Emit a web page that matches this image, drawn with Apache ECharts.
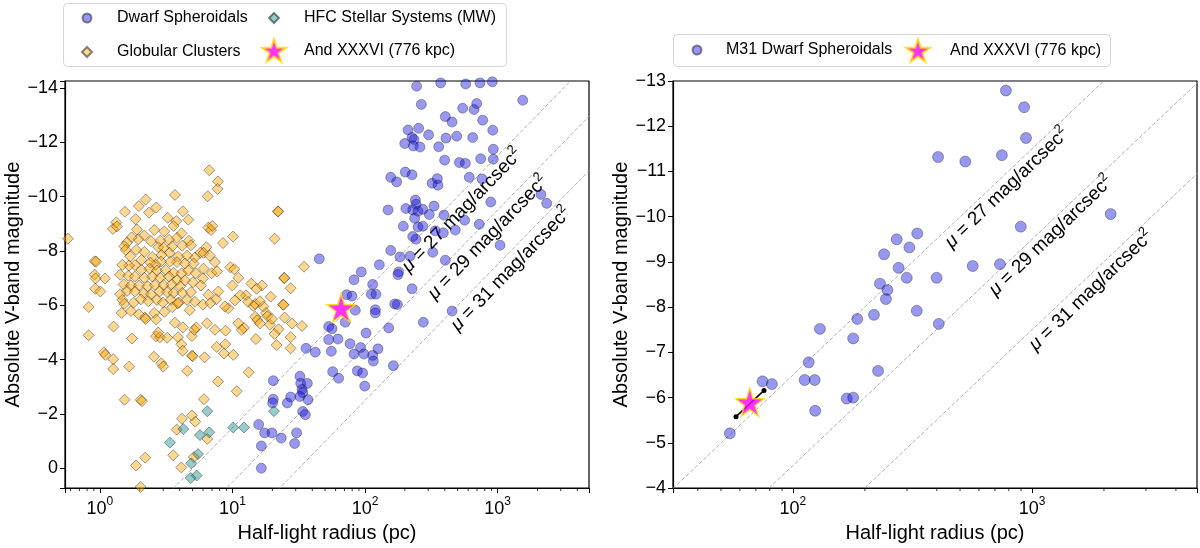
<!DOCTYPE html>
<html>
<head>
<meta charset="utf-8">
<script src="https://cdn.jsdelivr.net/npm/echarts@6/dist/echarts.min.js"></script>
<style>
  html, body { margin: 0; padding: 0; background: #fff; }
  #container { width: 1200px; height: 548px; }
</style>
</head>
<body>
<div id="container"></div>
<script>
// values: [log10 half-light radius (pc), absolute V magnitude]
const dwarfSph = [
  [2.39,-14.06],[2.571,-14.18],[2.76,-14.14],[2.868,-14.18],[2.961,-14.22],[3.19,-13.54],[2.425,-13.39],[2.737,-13.25],
  [2.823,-13.2],[2.843,-13.42],[2.606,-12.94],[2.657,-12.74],[2.888,-12.81],[2.325,-12.45],[2.405,-12.51],[2.48,-12.27],
  [2.964,-12.44],[2.355,-12.17],[2.37,-12.1],[2.3,-11.95],[2.365,-11.86],[2.415,-11.82],[2.611,-12.15],[2.692,-12.22],
  [2.813,-12.17],[2.556,-11.83],[2.968,-11.74],[2.601,-11.34],[2.712,-11.25],[2.757,-11.22],[2.873,-11.39],[2.968,-11.37],
  [2.194,-10.71],[2.239,-10.54],[2.304,-10.9],[2.355,-10.8],[2.506,-10.49],[2.546,-10.66],[2.551,-10.42],[2.787,-10.71],
  [2.883,-10.65],[3.328,-10.08],[3.371,-9.75],[2.949,-9.8],[2.38,-9.87],[2.385,-9.72],[2.174,-9.51],[2.309,-9.56],
  [2.36,-9.51],[2.4,-9.46],[2.436,-9.53],[2.521,-9.65],[2.485,-9.34],[2.596,-9.32],[2.375,-9.2],[2.752,-9.13],
  [2.862,-8.98],[2.289,-8.91],[2.4,-8.88],[2.436,-8.91],[2.53,-8.74],[2.591,-8.67],[2.681,-8.77],[2.36,-8.53],
  [2.385,-8.43],[3.019,-8.21],[2.194,-8.02],[2.264,-7.78],[2.34,-7.81],[2.511,-7.95],[2.606,-7.66],[1.655,-7.71],
  [2.108,-7.49],[2.254,-7.23],[2.249,-7.13],[1.972,-7.23],[1.917,-6.94],[2.058,-6.77],[2.048,-6.41],[2.083,-6.41],
  [2.355,-6.61],[1.862,-6.39],[1.902,-6.34],[2.224,-6.05],[2.244,-6.03],[2.078,-5.84],[1.927,-5.82],[2.657,-5.79],
  [1.726,-5.22],[1.751,-5.14],[2.078,-5.72],[1.851,-5.38],[2.179,-5.17],[2.44,-5.38],[1.726,-4.74],[1.796,-4.76],
  [1.625,-4.28],[1.746,-4.31],[1.887,-4.59],[1.967,-4.45],[2.098,-4.4],[1.917,-4.21],[1.992,-4.21],[2.058,-4.16],
  [2.063,-3.95],[2.214,-3.78],[1.756,-3.56],[1.801,-3.32],[1.942,-3.59],[1.982,-3.51],[1.998,-3.03],[2.008,-4.98],
  [1.555,-4.42],[1.308,-3.23],[1.509,-3.39],[1.515,-3.13],[1.565,-3.13],[1.525,-2.91],[1.53,-2.79],[1.308,-2.55],
  [1.303,-2.41],[1.439,-2.63],[1.414,-2.41],[1.509,-2.65],[1.57,-2.53],[1.53,-2.1],[1.55,-1.98],[1.198,-1.62],
  [1.243,-1.31],[1.298,-1.31],[1.368,-1.12],[1.484,-1.31],[1.218,-0.83],[1.469,-0.92],[1.218,-0.01]
];

const globClusters = [
  [-0.242,-8.45],[0.825,-10.97],[0.891,-10.56],[-0.04,-7.62],[-0.04,-7.13],[-0.035,-6.61],[-0.085,-5.94],[1.343,-9.46],
  [1.345,-9.45],[1.318,-8.45],[1.142,-6.8],[1.223,-6.73],[1.182,-6.61],
  [1.102,-6.37],[1.157,-5.98],[1.172,-6.05],[1.233,-5.96],[1.253,-5.72],[1.263,-5.6],[1.172,-5.58],[1.187,-5.46],
  [1.208,-5.33],[1.283,-5.29],[1.298,-5.5],[1.087,-5.17],[1.288,-6.32],[1.383,-6.03],[1.385,-6.02],[1.389,-7.01],[1.392,-7.0],
  [1.439,-6.63],[1.54,-7.42],[1.525,-5.24],[1.449,-5.33],[1.394,-5.55],[1.348,-5.12],[1.318,-4.95],[1.439,-4.83],
  [1.439,-4.42],[1.333,-4.54],[1.177,-4.76],[1.122,-3.54],[1.032,-2.84],[1.208,-6.15],[1.117,-6.13],
  [-0.085,-4.9],[0.03,-4.27],[0.04,-4.18],[0.1,-4.02],[0.1,-3.66],[0.221,-3.75],[0.242,-4.78],[0.423,-4.86],
  [0.408,-4.11],[0.463,-3.87],[0.478,-3.75],[0.186,-2.53],[0.307,-2.53],[0.317,-2.48],[0.453,-4.83],[0.508,-4.81],
  [0.589,-4.83],[0.614,-4.57],[0.624,-4.33],[0.659,-3.59],[0.694,-4.87],[0.694,-4.15],[0.7,-4.13],[0.79,-4.09],
  [0.946,-4.57],[0.881,-4.47],[0.936,-4.23],[1.006,-4.18],[0.891,-3.2],[0.785,-2.55],[0.619,-1.83],[0.694,-1.95],
  [0.719,-1.72],[0.579,-1.43],[0.553,-0.49],[0.614,-0.04],[0.709,-0.42],[0.81,-1.09],[0.272,-0.11],[0.342,-0.4],
  [0.307,0.68],
  [0.566,-10.06],[0.813,-10.01],[0.888,-10.28],[0.345,-9.89],[0.294,-9.65],[0.425,-9.6],[0.189,-9.44],[0.37,-9.41],
  [0.626,-9.46],[0.511,-9.22],[0.576,-9.1],[0.667,-9.15],[0.269,-9.17],[0.123,-9.05],[0.279,-8.79],[0.098,-8.81],
  [0.128,-8.9],[0.818,-8.86],[0.838,-8.77],[0.848,-8.92],[0.486,-8.72],[0.41,-8.77],[0.556,-8.92],[0.616,-8.65],
  [0.335,-8.57],[0.289,-8.43],[0.239,-8.5],[0.204,-8.31],[0.184,-8.17],[1.004,-8.53],[0.928,-8.29],[0.672,-8.38],
  [0.581,-8.48],[0.521,-8.41],[0.455,-8.38],[0.385,-8.36],[0.44,-8.14],[0.481,-8.12],[0.546,-8.17],[0.621,-8.19],
  [0.687,-8.21],[0.803,-8.14],[0.757,-7.93],[0.782,-7.93],[0.828,-7.83],[0.717,-7.76],[0.657,-7.83],[0.591,-7.8],
  [0.526,-7.93],[0.465,-7.85],[0.395,-7.78],[0.335,-7.97],[0.274,-8.04],[0.229,-7.8],[0.194,-8.04],[0.581,-7.59],
  [0.531,-7.61],[0.46,-7.61],[0.42,-7.49],[0.38,-7.57],[0.314,-7.67],[0.264,-7.48],[0.219,-7.46],[0.169,-7.49],
  [-0.028,-7.61],[0.038,-6.99],[0.642,-7.54],[0.707,-7.54],[0.868,-7.59],[0.782,-7.35],[0.984,-7.4],[1.014,-7.33],
  [0.314,-7.3],[0.375,-7.35],[0.43,-7.28],[0.496,-7.3],[0.556,-7.2],[0.616,-7.18],[0.667,-7.28],[0.722,-7.18],
  [0.777,-6.99],[0.843,-7.18],[0.883,-7.25],[0.153,-7.13],[0.214,-7.09],[0.264,-7.06],[0.335,-7.01],[0.395,-7.06],
  [0.455,-7.01],[0.521,-7.06],[0.581,-6.92],[0.642,-6.92],[0.702,-6.85],[0.762,-6.73],[-0.033,-6.99],[0.179,-6.77],
  [0.234,-6.73],[0.294,-6.73],[0.36,-6.7],[0.415,-6.75],[0.481,-6.75],[0.541,-6.77],[0.606,-6.7],[0.999,-6.73],
  [1.044,-7.01],[1.059,-6.37],[0.003,-6.51],[0.153,-6.41],[0.204,-6.53],[0.264,-6.51],[0.33,-6.44],[0.385,-6.41],
  [0.45,-6.51],[0.506,-6.49],[0.556,-6.46],[0.621,-6.46],[0.687,-6.49],[0.818,-6.39],[0.893,-6.51],[0.878,-6.22],
  [1.019,-6.18],[0.969,-5.89],[0.943,-5.96],[0.169,-6.2],[0.184,-6.06],[0.254,-6.1],[0.309,-6.22],[0.365,-6.15],
  [0.43,-6.2],[0.475,-6.1],[0.536,-6.2],[0.596,-6.1],[0.657,-6.2],[0.717,-6.13],[0.164,-5.72],[0.234,-5.79],
  [0.294,-5.67],[0.34,-5.55],[0.41,-5.72],[0.486,-5.76],[0.546,-5.93],[0.586,-6.08],[0.677,-5.82],[0.777,-6.03],
  [0.833,-6.08],[0.103,-5.22],[0.345,-5.5],[0.425,-5.48],[0.44,-5.0],[0.566,-5.36],[0.626,-5.19],[0.712,-5.1],
  [0.808,-5.34],[0.868,-5.1],[0.948,-5.07],[1.044,-5.34],[1.069,-5.1],[0.727,-5.19]
];

const hfcSystems = [
  [0.81,-2.11],[0.629,-1.45],[0.528,-0.95],[0.755,-1.23],[0.825,-1.33],[0.74,-0.53],[0.689,-0.19],[0.685,0.35],
  [0.73,0.26],[1.006,-1.51],[1.087,-1.51],[1.313,-2.11]
];

const m31Dwarfs = [
  [2.381,-9.17],[2.434,-9.5],[2.487,-9.32],[2.52,-9.63],[2.442,-8.87],[2.476,-8.65],[2.364,-8.52],[2.395,-8.38],
  [2.389,-8.18],[2.339,-7.83],[2.518,-7.92],[2.269,-7.74],[2.113,-7.52],[2.252,-7.31],[2.066,-6.78],[2.049,-6.39],
  [2.091,-6.39],[2.093,-5.71],[2.225,-5.98],[2.252,-6.0],[2.356,-6.59],[1.873,-6.36],[1.912,-6.3],[1.736,-5.21],
  [2.891,-12.79],[2.967,-12.42],[2.975,-11.74],[2.607,-11.32],[2.721,-11.22],[2.874,-11.36],[3.329,-10.06],[2.953,-9.78],
  [2.752,-8.91],[2.866,-8.95],[2.601,-8.65],[2.61,-7.63]
];

// And XXXVI: radius (pc), magnitude and the ends of its error bar
const andXXXVI = [66, -5.9];
const andErrR = [57.8, 75.7];
const andErrMag = [-5.58, -6.16];

// surface brightness guide lines, M = mu - 23.5 - 5 log10(r)
const muLevels = [27, 29, 31];
const muOffset = 23.5;
const muLabelLeft = [[531, -9.53], [832, -8.53], [1242, -7.37]];
const muLabelRight = [[778, -10.66], [1189, -9.6], [1750, -8.39]];

const xRangeLeft = [0.545, 4900];
const xRangeRight = [31.5, 4900];
const yRangeLeft = [-14.25, 0.72];
const yRangeRight = [-13, -4];

const FONT = 'Liberation Sans';
const toPc = arr => arr.map(d => [Math.pow(10, d[0]), d[1]]);
const starPath = 'path://M100,0 L122.45,69.1 L195.1,69.1 L136.33,111.8 L158.78,180.9 L100,138.2 L41.22,180.9 L63.67,111.8 L4.9,69.1 L77.55,69.1 Z';
const ANDNAME = 'And XXXVI (776 kpc)';

function minorTicks(lo, hi) {
  const out = [];
  for (let e = -1; e <= 4; e++) {
    for (let m = 2; m <= 9; m++) {
      const v = m * Math.pow(10, e);
      if (v > lo && v < hi) out.push(v);
    }
  }
  return out;
}

function decadeLabel(v) {
  const e = Math.log10(v);
  const n = Math.round(e);
  if (Math.abs(e - n) > 1e-6) return '';
  return '{b|10}{s|' + n + '}';
}

function magLabel(v) {
  if (Math.abs(v - Math.round(v)) > 1e-6) return '';
  return String(Math.round(v)).replace('-', '\u2212');
}

function xAxisCfg(idx, range) {
  return {
    type: 'log', gridIndex: idx, logBase: 10, min: range[0], max: range[1],
    name: 'Half-light radius (pc)', nameLocation: 'middle', nameGap: 27,
    nameTextStyle: { fontFamily: FONT, fontSize: 20, color: '#000' },
    axisLine: { show: true, onZero: false, lineStyle: { color: '#000', width: 1.2 } },
    axisTick: { show: true, length: 5, lineStyle: { color: '#000', width: 1 } },
    axisLabel: {
      formatter: decadeLabel, margin: 8, color: '#000',
      rich: {
        b: { fontFamily: FONT, fontSize: 18, color: '#000', lineHeight: 22, verticalAlign: 'bottom' },
        s: { fontFamily: FONT, fontSize: 12, color: '#000', lineHeight: 12, verticalAlign: 'top' }
      }
    },
    splitLine: { show: false }
  };
}

function yAxisCfg(idx, range, gap) {
  return {
    type: 'value', gridIndex: idx, min: range[0], max: range[1], inverse: true,
    splitNumber: idx === 0 ? 8 : 9,
    interval: idx === 0 ? undefined : 1,
    name: 'Absolute V-band magnitude', nameLocation: 'middle', nameGap: gap,
    nameTextStyle: { fontFamily: FONT, fontSize: 20, color: '#000' },
    axisLine: { show: true, onZero: false, lineStyle: { color: '#000', width: 1.2 } },
    axisTick: { show: true, length: 5, lineStyle: { color: '#000', width: 1 } },
    axisLabel: { formatter: magLabel, fontFamily: FONT, fontSize: 18, color: '#000', margin: 7 },
    splitLine: { show: false }
  };
}

function muLines(idx) {
  return muLevels.map(mu => ({
    type: 'line', xAxisIndex: idx, yAxisIndex: idx, silent: true, z: 1,
    symbol: 'none', clip: true,
    lineStyle: { color: '#9a9a9a', width: 0.8, type: [4, 2] },
    data: [0.1, 100000].map(r => [r, mu - muOffset - 5 * Math.log10(r)])
  }));
}

function muLabels(idx, pos, angle) {
  return {
    type: 'scatter', xAxisIndex: idx, yAxisIndex: idx, silent: true, z: 2,
    symbolSize: 1, itemStyle: { color: 'rgba(0,0,0,0)', opacity: 1 },
    data: pos,
    label: {
      show: true, position: 'inside', rotate: angle,
      color: '#000', opacity: 1, textBorderWidth: 0,
      formatter: p => '{i|\u03bc}{n| = ' + muLevels[p.dataIndex] + ' mag/arcsec}{p|2}',
      rich: {
        i: { fontFamily: FONT, fontSize: 19, fontStyle: 'italic', color: '#000', textBorderWidth: 0, lineHeight: 22, verticalAlign: 'bottom' },
        n: { fontFamily: FONT, fontSize: 19, color: '#000', textBorderWidth: 0, lineHeight: 22, verticalAlign: 'bottom' },
        p: { fontFamily: FONT, fontSize: 13, color: '#000', textBorderWidth: 0, lineHeight: 13, verticalAlign: 'top' }
      }
    }
  };
}

function tickSeries(idx, xr, yBottom) {
  return {
    type: 'custom', xAxisIndex: idx, yAxisIndex: idx, silent: true, clip: false,
    data: minorTicks(xr[0], xr[1]).map(v => [v, yBottom]),
    renderItem: (params, api) => {
      const p = api.coord([api.value(0), api.value(1)]);
      return {
        type: 'line',
        shape: { x1: p[0], y1: p[1], x2: p[0], y2: p[1] + 3 },
        style: { stroke: '#000', lineWidth: 0.8 }
      };
    }
  };
}

const blueStyle = { color: 'rgba(20,20,220,0.55)', borderColor: 'rgba(0,0,0,0.55)', borderWidth: 0.7 };
const starStyle = { color: '#ff00ff', borderColor: '#ffe000', borderWidth: 1.5 };

// one legend per entry so each marker can sit where the reference puts it
function legendItem(name, cx, cy, h, textX) {
  return {
    data: [name], left: cx - h / 2, top: cy - Math.max(h, 20) / 2, orient: 'horizontal',
    padding: 0, itemWidth: h, itemHeight: h, itemGap: 0,
    selectedMode: false,
    textStyle: {
      fontFamily: FONT, fontSize: 16, color: '#000', lineHeight: 20,
      padding: [0, 0, 0, textX - (cx + h / 2 + 5)]
    }
  };
}

const myChart = echarts.init(document.getElementById('container'));
const option = {
  animation: false,
  backgroundColor: '#fff',
  graphic: [
    { type: 'rect', left: 63, top: 3, z: -1, shape: { width: 443, height: 63, r: 4 },
      style: { fill: '#fff', stroke: '#d6d6d6', lineWidth: 1 } },
    { type: 'rect', left: 673, top: 34, z: -1, shape: { width: 437, height: 32, r: 4 },
      style: { fill: '#fff', stroke: '#d6d6d6', lineWidth: 1 } }
  ],
  legend: [
    legendItem('Dwarf Spheroidals', 86, 18, 9, 116),
    legendItem('Globular Clusters', 86, 52, 10, 116),
    legendItem('HFC Stellar Systems (MW)', 273, 18, 10, 303),
    legendItem(ANDNAME, 273, 50, 24, 303),
    legendItem('M31 Dwarf Spheroidals', 696, 50, 9, 725),
    legendItem(ANDNAME, 917, 50, 24, 949)
  ],
  grid: [
    { left: 65, right: 611, top: 81, bottom: 51, show: true, borderColor: '#000', borderWidth: 1.2 },
    { left: 673, right: 3, top: 81, bottom: 51, show: true, borderColor: '#000', borderWidth: 1.2 }
  ],
  xAxis: [xAxisCfg(0, xRangeLeft), xAxisCfg(1, xRangeRight)],
  yAxis: [yAxisCfg(0, yRangeLeft, 40), yAxisCfg(1, yRangeRight, 42)],
  series: [
    ...muLines(0),
    ...muLines(1),
    muLabels(0, muLabelLeft, 46),
    muLabels(1, muLabelRight, 44),
    tickSeries(0, xRangeLeft, yRangeLeft[1]),
    tickSeries(1, xRangeRight, yRangeRight[1]),
    {
      name: 'Dwarf Spheroidals', type: 'scatter', xAxisIndex: 0, yAxisIndex: 0, z: 3,
      symbol: 'circle', symbolSize: 10, itemStyle: blueStyle, data: toPc(dwarfSph)
    },
    {
      name: 'Globular Clusters', type: 'scatter', xAxisIndex: 0, yAxisIndex: 0, z: 4,
      symbol: 'diamond', symbolSize: 11,
      itemStyle: { color: 'rgba(255,165,0,0.55)', borderColor: 'rgba(0,0,0,0.6)', borderWidth: 0.8 },
      data: toPc(globClusters)
    },
    {
      name: 'HFC Stellar Systems (MW)', type: 'scatter', xAxisIndex: 0, yAxisIndex: 0, z: 5,
      symbol: 'diamond', symbolSize: 11,
      itemStyle: { color: 'rgba(0,128,128,0.5)', borderColor: 'rgba(0,0,0,0.6)', borderWidth: 0.8 },
      data: toPc(hfcSystems)
    },
    {
      name: ANDNAME, type: 'scatter', xAxisIndex: 0, yAxisIndex: 0, z: 6,
      symbol: starPath, symbolSize: 28, itemStyle: starStyle, data: [andXXXVI]
    },
    {
      name: 'M31 Dwarf Spheroidals', type: 'scatter', xAxisIndex: 1, yAxisIndex: 1, z: 3,
      symbol: 'circle', symbolSize: 11, itemStyle: blueStyle, data: toPc(m31Dwarfs)
    },
    {
      type: 'line', xAxisIndex: 1, yAxisIndex: 1, z: 5, silent: true,
      symbol: 'circle', symbolSize: 5, showSymbol: true,
      lineStyle: { color: '#000', width: 1.5 }, itemStyle: { color: '#000' },
      data: [[andErrR[0], andErrMag[0]], [andErrR[1], andErrMag[1]]]
    },
    {
      name: ANDNAME, type: 'scatter', xAxisIndex: 1, yAxisIndex: 1, z: 6,
      symbol: starPath, symbolSize: 28, itemStyle: starStyle, data: [andXXXVI]
    }
  ]
};
myChart.setOption(option);
window.addEventListener('resize', () => {
  myChart.resize();
});
</script>
</body>
</html>
